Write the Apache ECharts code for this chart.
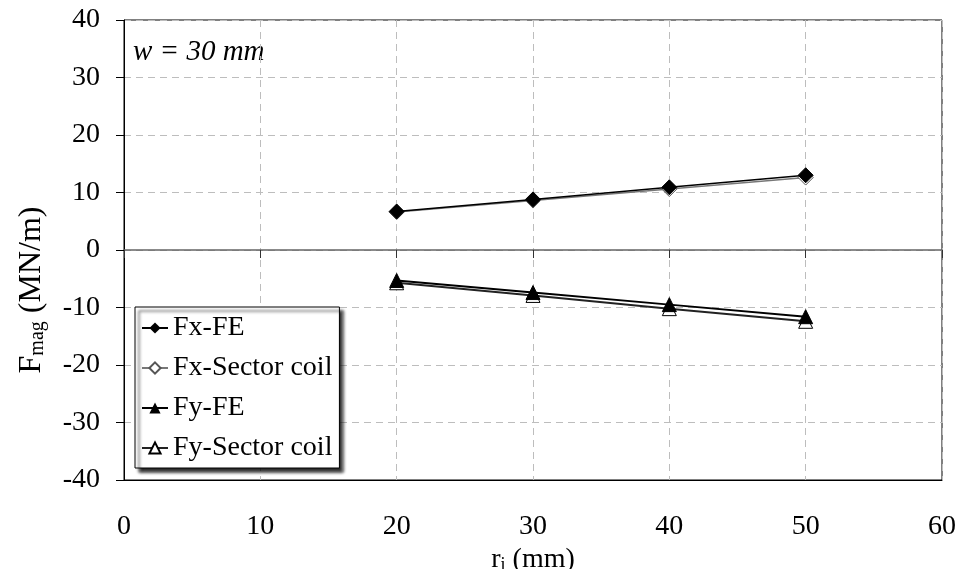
<!DOCTYPE html>
<html>
<head>
<meta charset="utf-8">
<script src="https://cdn.jsdelivr.net/npm/echarts@6/dist/echarts.min.js"></script>
<style>html,body{margin:0;padding:0;background:#fff}#c{width:960px;height:569px}</style>
</head>
<body>
<div id="c"></div>
<script>
var rValues = [20, 30, 40, 50];
var fxFE = [6.7, 8.8, 10.9, 13.0];
var fxSector = [6.6, 8.6, 10.6, 12.6];
var fyFE = [-5.3, -7.4, -9.5, -11.6];
var fySector = [-5.7, -7.9, -10.2, -12.4];
var seriesNames = ['Fx-FE', 'Fx-Sector coil', 'Fy-FE', 'Fy-Sector coil'];
var annotation = 'w = 30 mm';

function pairs(ys) { return rValues.map(function (x, i) { return [x, ys[i]]; }); }

var FONT = '"Liberation Serif", "Times New Roman", serif';
var chart = echarts.init(document.getElementById('c'), null, {renderer: 'canvas'});
var dashed = {show: true, lineStyle: {color: '#bdbdbd', type: [7, 5], width: 1}};

chart.setOption({
  backgroundColor: '#fff',
  animation: false,
  grid: {left: 124, right: 18, top: 20, bottom: 89, outerBoundsMode: 'none', containLabel: false,
         show: true, borderColor: '#000', borderWidth: 1, backgroundColor: 'transparent'},
  xAxis: [{
    type: 'value', min: 0, max: 60, interval: 10, position: 'bottom',
    axisLine: {onZero: false, lineStyle: {color: '#000', width: 1}},
    axisTick: {show: false},
    axisLabel: {fontSize: 28, fontFamily: FONT, color: '#000', margin: 33},
    splitLine: dashed,
    name: '{n|r}{s|i}{n| (mm)}', nameLocation: 'middle', nameGap: 62,
    nameTextStyle: {rich: {
      n: {fontSize: 28, fontFamily: FONT, color: '#000'},
      s: {fontSize: 18, fontFamily: FONT, color: '#000', padding: [10, 0, 0, 0], verticalAlign: 'bottom'}
    }}
  }, {
    type: 'value', min: 0, max: 60, interval: 10, position: 'top',
    axisLine: {onZero: true, lineStyle: {color: '#666', width: 1.5}},
    axisTick: {show: true, inside: true, length: 8, lineStyle: {color: '#333', width: 1}},
    axisLabel: {show: false},
    splitLine: {show: false}
  }],
  yAxis: {
    type: 'value', min: -40, max: 40, interval: 10,
    axisLine: {show: true, onZero: false, lineStyle: {color: '#000', width: 1}},
    axisTick: {show: true, length: 8, lineStyle: {color: '#000'}},
    axisLabel: {fontSize: 28, fontFamily: FONT, color: '#000', margin: 24},
    splitLine: dashed,
    name: '{n|F}{s|mag}{n| (MN/m)}', nameLocation: 'middle', nameGap: 76, nameRotate: 90,
    nameTextStyle: {padding: [0, 80, 0, 0], rich: {
      n: {fontSize: 32, fontFamily: FONT, color: '#000'},
      s: {fontSize: 20, fontFamily: FONT, color: '#000', padding: [12, 0, 0, 0], verticalAlign: 'bottom'}
    }}
  },
  legend: {
    orient: 'vertical', left: 135, top: 307,
    padding: [6, 7, 5, 6], itemGap: 10, itemWidth: 26, itemHeight: 14,
    backgroundColor: '#fff', borderColor: '#000', borderWidth: 1,
    shadowColor: 'rgba(0,0,0,0.85)', shadowOffsetX: 4, shadowOffsetY: 4, shadowBlur: 3,
    textStyle: {fontSize: 28, lineHeight: 30, fontFamily: FONT, color: '#000'},
    data: seriesNames
  },
  graphic: [{
    type: 'text', left: 133, top: 38,
    style: {text: annotation, fontStyle: 'italic', fontSize: 29, fontFamily: 'Liberation Serif', fill: '#000'}
  }],
  series: [
    {name: seriesNames[1], type: 'line', data: pairs(fxSector), z: 2,
     symbol: 'diamond', symbolSize: 15,
     lineStyle: {color: '#777', width: 1.5},
     itemStyle: {color: '#fff', borderColor: '#555', borderWidth: 1}},
    {name: seriesNames[0], type: 'line', data: pairs(fxFE), z: 3,
     symbol: 'diamond', symbolSize: 15,
     lineStyle: {color: '#000', width: 1.5},
     itemStyle: {color: '#000', borderColor: '#000'}},
    {name: seriesNames[3], type: 'line', data: pairs(fySector), z: 2,
     symbol: 'triangle', symbolSize: 14,
     lineStyle: {color: '#222', width: 2},
     itemStyle: {color: '#fff', borderColor: '#000', borderWidth: 1}},
    {name: seriesNames[2], type: 'line', data: pairs(fyFE), z: 3,
     symbol: 'triangle', symbolSize: 14,
     lineStyle: {color: '#000', width: 2},
     itemStyle: {color: '#000', borderColor: '#000'}}
  ]
});
</script>
</body>
</html>
